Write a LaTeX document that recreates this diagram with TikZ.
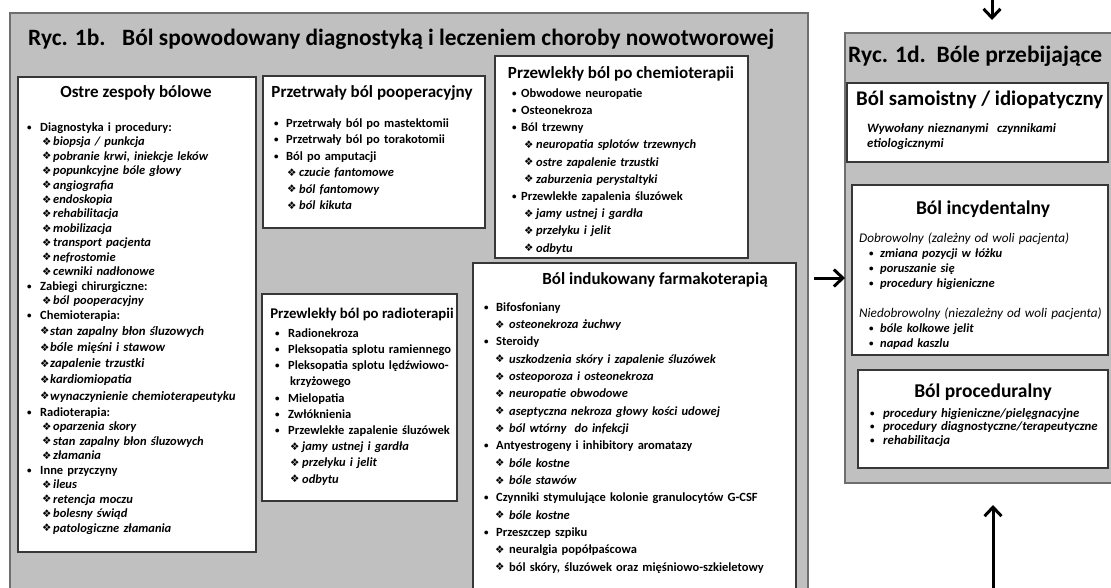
\documentclass[tikz,border=0pt]{standalone}
\usepackage{fontspec}
\setmainfont{Carlito}
\newfontfamily\symf{DejaVu Sans}
\usetikzlibrary{arrows.meta}

\definecolor{panelgray}{RGB}{192,192,192}
\definecolor{panelline}{RGB}{110,110,110}
\definecolor{boxline}{RGB}{55,55,55}

% list helpers: bullet column, sub-item indent, sub-item marker column
\newlength\bcol \newlength\sind \newlength\scol
\newcommand\dia{{\symf\fontsize{10.5}{10}\selectfont\raisebox{0.3pt}{❖}}}
\newcommand\bdot{\raisebox{0.9pt}{\fontsize{9}{9}\selectfont •}}
\newcommand\Set[3]{\setlength{\parskip}{0pt}\setlength{\bcol}{#1pt}\setlength{\sind}{#2pt}\setlength{\scol}{#3pt}}
\newcommand\bul[1]{\noindent\strut\makebox[\bcol][l]{\bdot}#1\par}
\newcommand\sub[1]{\noindent\strut\hspace*{\sind}\makebox[\scol][l]{\dia}\textit{#1}\par}
\newcommand\subr[1]{\noindent\strut\hspace*{\sind}\makebox[\scol][l]{\dia}#1\par}
\newcommand\cont[1]{\noindent\strut\hspace*{\sind}#1\par}
\newcommand\plain[1]{\noindent\strut{#1}\par}
\newcommand\ibul[1]{\noindent\strut\hspace*{\sind}\makebox[\bcol][l]{\bdot}\textit{#1}\par}

\begin{document}
\begin{tikzpicture}[x=1pt,y=-1pt,
  panel/.style={draw=panelline, line width=2pt, fill=panelgray, inner sep=0pt, outer sep=0pt, anchor=north west},
  ibox/.style={draw=boxline, line width=1.2pt, fill=white, inner sep=0pt, outer sep=0pt, anchor=north west},
  title/.style={anchor=base west, inner sep=0pt, font=\bfseries\fontsize{23.4}{27}\selectfont},
  hd/.style={anchor=base, inner sep=0pt, font=\bfseries\fontsize{17}{20}\selectfont},
  hdd/.style={anchor=base, inner sep=0pt, font=\bfseries\fontsize{19.5}{23}\selectfont},
  lst/.style={anchor=north west, inner sep=0pt, text width=330pt, align=left},
  arr/.style={line width=3pt, -{Straight Barb[length=9pt, width=17pt]}}
]
\useasboundingbox (0,0) rectangle (1111,587);
\clip (0,0) rectangle (1111,587);
\fill[white] (0,0) rectangle (1111,587);

% ---------- left panel ----------
\node[panel, minimum width=798pt, minimum height=600pt] (p1b) at (10,13) {};
\node[title] (t1b) at (28,45) {\makebox[94pt][l]{Ryc. 1b.}Ból spowodowany diagnostyką i leczeniem choroby nowotworowej};

% acute pain syndromes
\node[ibox, minimum width=238pt, minimum height=475pt] (ostre) at (18,77) {};
\node[hd] (ostreH) at (136,97.5) {Ostre zespoły bólowe};
\node[lst, font=\bfseries\fontsize{12.5}{14.45}\selectfont] (ostreL) at (27,120.9) {\Set{13}{15}{11}%
\bul{Diagnostyka i procedury:}
\sub{biopsja / punkcja}
\sub{pobranie krwi, iniekcje leków}
\sub{popunkcyjne bóle głowy}
\sub{angiografia}
\sub{endoskopia}
\sub{rehabilitacja}
\sub{mobilizacja}
\sub{transport pacjenta}
\sub{nefrostomie}
\sub{cewniki nadłonowe}
\bul{Zabiegi chirurgiczne:}
\sub{ból pooperacyjny}
\bul{Chemioterapia:}
\Set{13}{13}{10}\fontsize{12.8}{16.2}\selectfont
\sub{stan zapalny błon śluzowych}
\sub{bóle mięśni i stawow}
\sub{zapalenie trzustki}
\sub{kardiomiopatia}
\sub{wynaczynienie chemioterapeutyku}
\Set{13}{15}{11}\fontsize{12.5}{14.5}\selectfont
\bul{Radioterapia:}
\sub{oparzenia skory}
\sub{stan zapalny błon śluzowych}
\sub{złamania}
\bul{Inne przyczyny}
\sub{ileus}
\sub{retencja moczu}
\sub{bolesny świąd}
\sub{patologiczne złamania}};

% persistent postoperative pain
\node[ibox, minimum width=222pt, minimum height=152pt] (poop) at (263,76) {};
\node[hd] (poopH) at (372,97) {Przetrwały ból pooperacyjny};
\node[lst, font=\bfseries\fontsize{12.5}{16.5}\selectfont] (poopL) at (274,115.45) {\Set{12}{13}{12}%
\bul{Przetrwały ból po mastektomii}
\bul{Przetrwały ból po torakotomii}
\bul{Ból po amputacji}
\sub{czucie fantomowe}
\sub{ból fantomowy}
\sub{ból kikuta}};

% chronic pain after chemotherapy
\node[ibox, minimum width=253pt, minimum height=202pt] (chemio) at (495,56) {};
\node[hd] (chemioH) at (621,78) {Przewlekły ból po chemioterapii};
\node[lst, font=\bfseries\fontsize{12.5}{17.2}\selectfont] (chemioL) at (512,84.96) {\Set{9}{12}{12}%
\bul{Obwodowe neuropatie}
\bul{Osteonekroza}
\bul{Ból trzewny}
\sub{neuropatia splotów trzewnych}
\sub{ostre zapalenie trzustki}
\sub{zaburzenia perystaltyki}
\bul{Przewlekłe zapalenia śluzówek}
\sub{jamy ustnej i gardła}
\sub{przełyku i jelit}
\sub{odbytu}};

% chronic pain after radiotherapy
\node[ibox, minimum width=195pt, minimum height=207pt] (radio) at (262,294) {};
\node[hd, font=\bfseries\fontsize{14.8}{18}\selectfont] (radioH) at (362,318) {Przewlekły ból po radioterapii};
\node[lst, font=\bfseries\fontsize{12.5}{16.2}\selectfont] (radioL) at (275,325.66) {\Set{13}{15}{12}%
\bul{Radionekroza}
\bul{Pleksopatia splotu ramiennego}
\bul{Pleksopatia splotu lędźwiowo-}
\cont{krzyżowego}
\bul{Mielopatia}
\bul{Zwłóknienia}
\bul{Przewlekłe zapalenie śluzówek}
\sub{jamy ustnej i gardła}
\sub{przełyku i jelit}
\sub{odbytu}};

% drug-induced pain
\node[ibox, minimum width=323pt, minimum height=332pt] (farm) at (473,263) {};
\node[hd] (farmH) at (655,284) {Ból indukowany farmakoterapią};
\node[lst, font=\bfseries\fontsize{12.5}{17.33}\selectfont] (farmL) at (484,298.87) {\Set{12}{11}{14}%
\bul{Bifosfoniany}
\sub{osteonekroza żuchwy}
\bul{Steroidy}
\sub{uszkodzenia skóry i zapalenie śluzówek}
\sub{osteoporoza i osteonekroza}
\sub{neuropatie obwodowe}
\sub{aseptyczna nekroza głowy kości udowej}
\sub{ból wtórny\ \ do infekcji}
\bul{Antyestrogeny i inhibitory aromatazy}
\sub{bóle kostne}
\sub{bóle stawów}
\bul{Czynniki stymulujące kolonie granulocytów G-CSF}
\sub{bóle kostne}
\bul{Przeszczep szpiku}
\subr{neuralgia popółpaścowa}
\subr{ból skóry, śluzówek oraz mięśniowo-szkieletowy}};

% ---------- right panel ----------
\node[panel, minimum width=280pt, minimum height=450pt] (p1d) at (845,33) {};
\node[title, font=\bfseries\fontsize{23.5}{28}\selectfont] (t1d) at (848,62) {Ryc. 1d.\ \ Bóle przebijające};

\node[ibox, minimum width=261pt, minimum height=79pt] (samo) at (847,83) {};
\node[hdd, anchor=base west, font=\bfseries\fontsize{20.8}{24}\selectfont] (samoH) at (856,105) {Ból samoistny / idiopatyczny};
\node[lst, font=\bfseries\itshape\fontsize{12.8}{15}\selectfont] (samoL) at (867,121.5) {\Set{0}{0}{0}%
\plain{Wywołany nieznanymi\ \ czynnikami}
\plain{etiologicznymi}};

\node[ibox, minimum width=256pt, minimum height=170pt] (incyd) at (852,185) {};
\node[hdd] (incydH) at (983,214) {Ból incydentalny};
\node[lst, font=\bfseries\fontsize{12.5}{15}\selectfont] (incydL) at (859,231.5) {\Set{11}{10}{0}%
\plain{\mdseries\itshape\fontsize{13.2}{15}\selectfont Dobrowolny (zależny od woli pacjenta)}
\ibul{zmiana pozycji w łóżku}
\ibul{poruszanie się}
\ibul{procedury higieniczne}
\plain{}
\plain{\mdseries\itshape\fontsize{13.2}{15}\selectfont Niedobrowolny (niezależny od woli pacjenta)}
\ibul{bóle kolkowe jelit}
\ibul{napad kaszlu}};

\node[ibox, minimum width=250pt, minimum height=98pt] (proc) at (858,370) {};
\node[hdd] (procH) at (983,397) {Ból proceduralny};
\node[lst, font=\bfseries\fontsize{12.8}{13.5}\selectfont] (procL) at (870,407.55) {\Set{13}{0}{0}%
\ibul{procedury higieniczne/pielęgnacyjne}
\ibul{procedury diagnostyczne/terapeutyczne}
\ibul{rehabilitacja}};

% ---------- connectors ----------
\coordinate (topIn) at (992,-2);
\coordinate (topTip) at (992,20);
\coordinate (sideOut) at (814,278);
\coordinate (botIn) at (993,592);
\coordinate (botTip) at (993,505);
\draw[arr] (topIn) -- (topTip);
\draw[arr] (sideOut) -- (sideOut -| p1d.west);
\draw[arr] (botIn) -- (botTip);
\end{tikzpicture}
\end{document}
